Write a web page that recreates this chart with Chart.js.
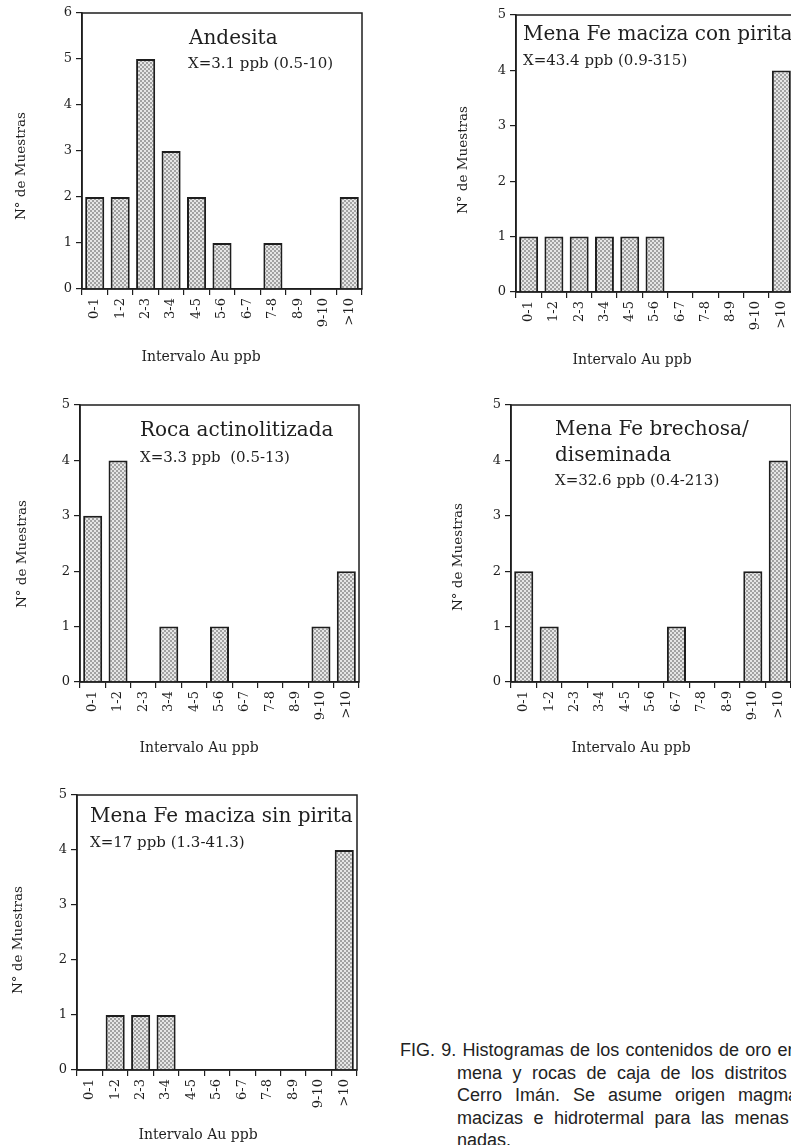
<!DOCTYPE html>
<html>
<head>
<meta charset="utf-8">
<script src="https://cdn.jsdelivr.net/npm/chart.js@4.4.1/dist/chart.umd.min.js"></script>
<style>
  html, body { margin: 0; padding: 0; background: #fff; }
  body { width: 791px; height: 1145px; overflow: hidden; position: relative; }
  canvas { position: absolute; }
  .cap {
    position: absolute; left: 400px; top: 1039px;
    font-family: "Liberation Sans", Arial, sans-serif; font-size: 18px;
    line-height: 22.5px; color: #222; white-space: nowrap;
  }
  .cap div { padding-left: 57px; word-spacing: 5.5px; }
  .cap div.first { padding-left: 0; word-spacing: 1.3px; }
  .cap div.wide { word-spacing: 8px; }
</style>
</head>
<body>
<canvas id="c1" width="380" height="375" style="left:0;top:0"></canvas>
<canvas id="c2" width="380" height="375" style="left:430px;top:0"></canvas>
<canvas id="c3" width="380" height="375" style="left:0;top:390px"></canvas>
<canvas id="c4" width="380" height="375" style="left:430px;top:390px"></canvas>
<canvas id="c5" width="380" height="365" style="left:0;top:780px"></canvas>
<div class="cap">
  <div class="first">FIG. 9. Histogramas de los contenidos de oro en</div>
  <div>mena y rocas de caja de los distritos</div>
  <div class="wide">Cerro Imán. Se asume origen magmático</div>
  <div>macizas e hidrotermal para las menas brechosas/dise-</div>
  <div>nadas.</div>
</div>
<script>
// intervalos de Au (ppb) y número de muestras por intervalo
const categories = ['0-1', '1-2', '2-3', '3-4', '4-5', '5-6', '6-7', '7-8', '8-9', '9-10', '>10'];
const andesita = [2, 2, 5, 3, 2, 1, 0, 1, 0, 0, 2];
const macizaConPirita = [1, 1, 1, 1, 1, 1, 0, 0, 0, 0, 4];
const rocaActinolitizada = [3, 4, 0, 1, 0, 1, 0, 0, 0, 1, 2];
const brechosa = [2, 1, 0, 0, 0, 0, 1, 0, 0, 2, 4];
const macizaSinPirita = [0, 1, 1, 1, 0, 0, 0, 0, 0, 0, 4];
const yMaxima = [6, 5, 5, 5, 5];

const SERIF = '"DejaVu Serif", "Liberation Serif", serif';
const INK = '#1e1e1e';

// trama punteada de las barras
const pc = document.createElement('canvas');
pc.width = 4; pc.height = 4;
const pctx = pc.getContext('2d');
pctx.fillStyle = '#e6e6e6';
pctx.fillRect(0, 0, 4, 4);
pctx.fillStyle = '#a2a2a2';
pctx.fillRect(0, 0, 2, 2);
pctx.fillRect(2, 2, 2, 2);
const stipple = pctx.createPattern(pc, 'repeat');

// marco del gráfico + textos
const frameNotes = {
  id: 'frameNotes',
  afterDraw(chart, args, opts) {
    const { ctx, chartArea: a } = chart;
    ctx.save();
    ctx.strokeStyle = INK;
    ctx.lineWidth = 1.5;
    ctx.strokeRect(a.left, a.top, a.right - a.left, a.bottom - a.top);
    ctx.fillStyle = INK;
    ctx.textBaseline = 'middle';
    (opts.notes || []).forEach(n => {
      ctx.save();
      ctx.font = n.size + 'px ' + SERIF;
      ctx.textAlign = n.align || 'left';
      ctx.translate(n.x - opts.ox, n.y - opts.oy);
      if (n.rot) ctx.rotate(n.rot);
      ctx.fillText(n.text, 0, 0);
      ctx.restore();
    });
    ctx.restore();
  }
};

function histo(id, values, yMax, box, notes, yTitle, xTitle) {
  const el = document.getElementById(id);
  const ox = el.offsetLeft, oy = el.offsetTop;
  const all = notes.concat([
    { text: 'N° de Muestras', x: yTitle[0], y: yTitle[1], size: 13.5, align: 'center', rot: -Math.PI / 2 },
    { text: 'Intervalo Au ppb', x: xTitle[0], y: xTitle[1], size: 14, align: 'center' }
  ]);
  return new Chart(el, {
    type: 'bar',
    data: {
      labels: categories,
      datasets: [{
        data: values,
        backgroundColor: stipple,
        borderColor: INK,
        borderWidth: 2,
        barPercentage: 0.75,
        categoryPercentage: 1
      }]
    },
    options: {
      responsive: false,
      animation: false,
      devicePixelRatio: 1,
      layout: { padding: { left: 0, top: box.T - oy, right: ox + el.width - box.R, bottom: 0 } },
      plugins: {
        legend: { display: false },
        tooltip: { enabled: false },
        frameNotes: { notes: all, ox: ox, oy: oy }
      },
      scales: {
        x: {
          grid: { drawOnChartArea: false, tickLength: 6, color: INK, lineWidth: 1.2 },
          border: { color: INK, width: 1.5 },
          ticks: { color: INK, font: { family: SERIF, size: 13 }, maxRotation: 90, minRotation: 90, autoSkip: false, padding: 3 },
          afterFit: s => { s.height = oy + el.height - box.B; }
        },
        y: {
          min: 0,
          max: yMax,
          grid: { drawOnChartArea: false, tickLength: 6, color: INK, lineWidth: 1.2 },
          border: { color: INK, width: 1.5 },
          ticks: { stepSize: 1, color: INK, font: { family: SERIF, size: 13 }, padding: 4 },
          afterFit: s => { s.width = box.L - ox; }
        }
      }
    },
    plugins: [frameNotes]
  });
}

histo('c1', andesita, yMaxima[0], { L: 82, T: 13, R: 362, B: 289 }, [
  { text: 'Andesita', x: 189, y: 39, size: 20 },
  { text: 'X=3.1 ppb (0.5-10)', x: 188, y: 64, size: 15 }
], [21, 166], [201, 357]);

histo('c2', macizaConPirita, yMaxima[1], { L: 516, T: 15, R: 794, B: 292 }, [
  { text: 'Mena Fe maciza con pirita', x: 523, y: 35, size: 20 },
  { text: 'X=43.4 ppb (0.9-315)', x: 523, y: 61, size: 15 }
], [463, 160], [632, 360]);

histo('c3', rocaActinolitizada, yMaxima[2], { L: 80, T: 405, R: 359, B: 682 }, [
  { text: 'Roca actinolitizada', x: 140, y: 431, size: 20 },
  { text: 'X=3.3 ppb  (0.5-13)', x: 140, y: 458, size: 15 }
], [22, 554], [199, 748]);

histo('c4', brechosa, yMaxima[3], { L: 511, T: 405, R: 791, B: 682 }, [
  { text: 'Mena Fe brechosa/', x: 555, y: 430, size: 20 },
  { text: 'diseminada', x: 555, y: 456, size: 20 },
  { text: 'X=32.6 ppb (0.4-213)', x: 555, y: 481, size: 15 }
], [458, 557], [631, 748]);

histo('c5', macizaSinPirita, yMaxima[4], { L: 77, T: 795, R: 357, B: 1070 }, [
  { text: 'Mena Fe maciza sin pirita', x: 90, y: 817, size: 20 },
  { text: 'X=17 ppb (1.3-41.3)', x: 90, y: 843, size: 15 }
], [18, 940], [198, 1135]);
</script>
</body>
</html>
